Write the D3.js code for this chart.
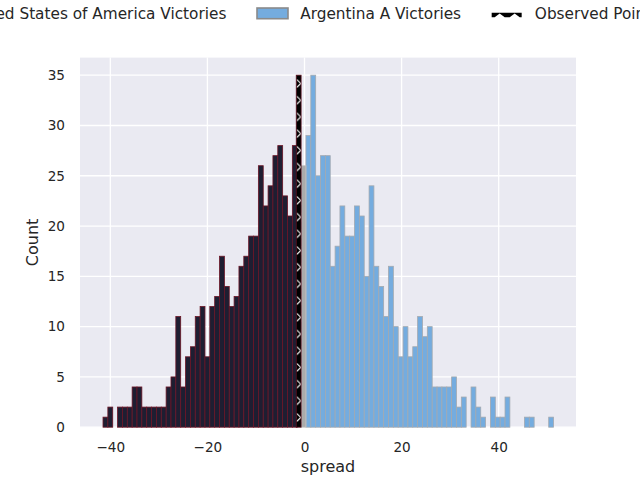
<!DOCTYPE html>
<html>
<head>
<meta charset="utf-8">
<script src="https://cdn.jsdelivr.net/npm/d3@7"></script>
<style>
  body { margin: 0; background: #fff; }
  svg { display: block; font-family: "DejaVu Sans", sans-serif; }
</style>
</head>
<body>
<svg id="chart" width="640" height="480"></svg>
<script>
// spread histogram, one bin per point of spread
const binWidth = 1
const usaStart = -41.5
const usaCounts = [1, 2, 0, 2, 2, 2, 4, 4, 2, 2, 2, 2, 2, 4, 5, 11, 4, 7, 8, 11,
  12, 7, 12, 13, 17, 14, 12, 13, 16, 17, 19, 19, 26, 22, 24, 27, 28, 23, 21, 28]
const argStart = 0.3
const argCounts = [29, 35, 25, 27, 27, 16, 18, 22, 19, 19, 22, 21, 15, 24, 16, 14, 11, 16,
  10, 7, 10, 7, 8, 11, 9, 10, 4, 4, 4, 4, 5, 2, 3, 0, 4, 2, 1, 0, 3, 1, 1, 3, 0, 0, 0,
  1, 1, 0, 0, 0, 1]
const tieBin = { left: -0.7, count: 26 }
const observedBin = { left: -1.7, count: 35 }
const xTicks = [-40, -20, 0, 20, 40]
const yTicks = [0, 5, 10, 15, 20, 25, 30, 35]
const legendLabels = ['United States of America Victories', 'Argentina A Victories', 'Observed Point']

const margin = { left: 80, right: 64, top: 57.6, bottom: 52.8 }
const width = 640
const height = 480
const svg = d3.select('#chart')

const x = d3.scaleLinear()
  .domain([-46.24, 55.92])
  .range([margin.left, width - margin.right])
const y = d3.scaleLinear()
  .domain([0, 36.75])
  .range([height - margin.bottom, margin.top])

const usaData = usaCounts.map((c, i) => ({ left: usaStart + i * binWidth, count: c }))
const argData = argCounts.map((c, i) => ({ left: argStart + i * binWidth, count: c }))

// hatch for the observed bar
const defs = svg.append('defs')
const pat = defs.append('pattern')
  .attr('id', 'hatch')
  .attr('patternUnits', 'userSpaceOnUse')
  .attr('x', x(observedBin.left))
  .attr('y', y(observedBin.count))
  .attr('width', x(binWidth) - x(0))
  .attr('height', 16.7)
pat.append('rect').attr('width', 10).attr('height', 20).attr('fill', '#000')
pat.append('path')
  .attr('d', 'M0.5,4.3 L4.6,8.3 L0.5,12.3')
  .attr('fill', 'none')
  .attr('stroke', '#fff')
  .attr('stroke-width', 1.1)

// background + grid
svg.append('rect')
  .attr('x', margin.left)
  .attr('y', margin.top)
  .attr('width', width - margin.left - margin.right)
  .attr('height', height - margin.top - margin.bottom)
  .attr('fill', '#eaeaf2')

const grid = svg.append('g')
grid.selectAll('.gx')
  .data(xTicks)
  .enter().append('line')
  .attr('x1', d => x(d)).attr('x2', d => x(d))
  .attr('y1', margin.top).attr('y2', height - margin.bottom)
  .attr('stroke', '#fff').attr('stroke-width', 1.3)
grid.selectAll('.gy')
  .data(yTicks)
  .enter().append('line')
  .attr('x1', margin.left).attr('x2', width - margin.right)
  .attr('y1', d => y(d)).attr('y2', d => y(d))
  .attr('stroke', '#fff').attr('stroke-width', 1.3)

function drawBars (data, fill, stroke, cls) {
  svg.append('g').selectAll('.' + cls)
    .data(data.filter(d => d.count > 0))
    .enter().append('rect')
    .attr('class', cls)
    .attr('x', d => x(d.left))
    .attr('width', x(binWidth) - x(0))
    .attr('y', d => y(d.count))
    .attr('height', d => y(0) - y(d.count))
    .attr('fill', fill)
    .attr('stroke', stroke)
    .attr('stroke-width', 0.8)
}

drawBars(usaData, '#1e1e32', '#6b1526', 'usa')
drawBars(argData, '#74acdf', '#a3a9b0', 'arg')
drawBars([tieBin], '#ababab', '#c4c4c4', 'tie')
drawBars([observedBin], 'url(#hatch)', '#5a1020', 'obs')

// axes (seaborn darkgrid: labels only)
const xAxis = d3.axisBottom(x).tickValues(xTicks).tickSize(0).tickPadding(0)
  .tickFormat(d => d3.format('')(d).replace('-', '\u2212'))
svg.append('g')
  .attr('transform', `translate(0,${height - margin.bottom})`)
  .call(xAxis)
  .call(g => g.select('.domain').remove())
  .call(g => g.selectAll('text')
    .attr('dy', null)
    .attr('y', 24.8)
    .attr('fill', '#262626')
    .style('font-size', '13.6px')
    .style('font-family', 'DejaVu Sans'))

const yAxis = d3.axisLeft(y).tickValues(yTicks).tickSize(0).tickPadding(0)
svg.append('g')
  .attr('transform', `translate(${margin.left},0)`)
  .call(yAxis)
  .call(g => g.select('.domain').remove())
  .call(g => g.selectAll('text')
    .attr('x', -15)
    .attr('fill', '#262626')
    .style('font-size', '13.6px')
    .style('font-family', 'DejaVu Sans'))

svg.append('text')
  .attr('x', (margin.left + width - margin.right) / 2)
  .attr('y', 472)
  .attr('text-anchor', 'middle')
  .attr('fill', '#262626')
  .style('font-size', '16px')
  .text('spread')

svg.append('text')
  .attr('transform', `translate(38,${(margin.top + height - margin.bottom) / 2}) rotate(-90)`)
  .attr('text-anchor', 'middle')
  .attr('fill', '#262626')
  .style('font-size', '16px')
  .text('Count')

// legend along the top, wider than the figure
const fs = 15.3
const handleLen = 31
const handlePad = 12.2
const colSpace = 30.6
const legend = svg.append('g')
const items = legend.selectAll('.item')
  .data(legendLabels)
  .enter().append('g')
  .attr('class', 'item')
items.append('text')
  .attr('y', 18.5)
  .attr('fill', '#262626')
  .style('font-size', fs + 'px')
  .text(d => d)
const widths = []
items.select('text').each(function () { widths.push(this.getComputedTextLength()) })
// anchor the middle entry where it sits in the reference
let cur = 257 - (handleLen + handlePad + widths[0] + colSpace)
items.each(function (d, i) {
  const g = d3.select(this)
  g.attr('transform', `translate(${cur},0)`)
  g.select('text').attr('x', handleLen + handlePad)
  if (i === 0) {
    g.append('rect').attr('y', 8).attr('width', handleLen).attr('height', 10.7)
      .attr('fill', '#1e1e32').attr('stroke', '#6b1526').attr('stroke-width', 1.5)
  } else if (i === 1) {
    g.append('rect').attr('y', 8).attr('width', handleLen).attr('height', 10.7)
      .attr('fill', '#74acdf').attr('stroke', '#8a8a8a').attr('stroke-width', 1.6)
  } else {
    g.append('path')
      .attr('d', 'M0,12.7 L30,12.7 L30,17.3 L28,17.3 L23,13.6 L18,17.3 L13,17.3 L8,13.6 L3,17.3 L0,17.3 Z')
      .attr('fill', '#000')
  }
  cur += handleLen + handlePad + widths[i] + colSpace
})
</script>
</body>
</html>
